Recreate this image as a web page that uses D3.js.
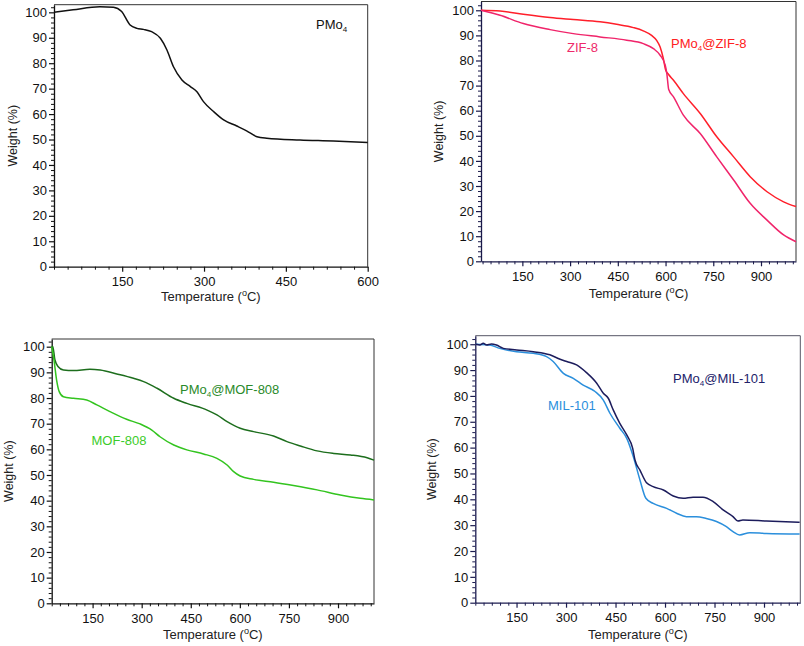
<!DOCTYPE html>
<html><head><meta charset="utf-8">
<script src="https://cdn.jsdelivr.net/npm/d3@7"></script>
<style>
body{margin:0;background:#fff;}
text{font-family:"Liberation Sans",Arial,sans-serif;}
</style></head>
<body><svg id="c" width="804" height="646"></svg>
<script>
// ---------- DATA ----------
const pmo4T = [25,60,109,134,149,164.5,177,189,204,220,232,244,259.5,275,287,299,317.5,336,360,378,397,415,476,537,600];
const pmo4W = [100,101,102.2,102,100.3,95,93.7,93.3,92.4,89.8,85.2,78.6,73.4,70.8,68.8,64.9,61,57.7,55.3,53.4,51.1,50.5,49.8,49.4,48.8];

const zifPT = [20,80,153,237,310,394,446,499,530,556,572,583,593,600.6,609,625,656,709,761,814,866,919,971,1010];
const zifPW = [100,99.7,98.4,97.1,96.3,95.4,94.4,93.1,91.8,90,88,85.4,80.8,76.1,74.5,72.1,66.8,58.9,49.6,41.6,33.7,27.7,23.7,21.8];
const zifT  = [20,80,153,237,310,394,478,530,562,583,599,604,610,625,656,709,761,814,866,919,971,1010];
const zifW  = [100,98,94.7,92.3,90.7,89.4,88.1,86.7,84.7,82.1,78.1,74.8,68.4,65.5,58.2,50.9,41.6,32.4,23.1,16.4,10.5,7.8];

const mofPT = [25,28,35,45,61,91.5,142,173,224,275,306,347,398,438,500,530,561,601,642,703,744,785,836,887,938,989,1010];
const mofPW = [100,100.2,94.8,92.2,90.9,90.7,91.2,90.9,89.4,87.7,86.4,83.8,79.9,77.9,75.3,73.4,70.8,68.2,66.9,65.2,63,61.3,59.4,58.4,57.8,56.7,55.8];
const mofT  = [25,32,40,48,61,91.5,132,163,203,254,295,331,356,398,438,489,530,561,581,601,642,703,764,836,907,968,1010];
const mofW  = [100,94.8,87,82.5,80.5,79.9,79.2,77.3,74.7,71.7,69.9,67.5,64.9,61.7,59.8,58.2,56.5,53.9,51.3,49.6,48.3,47.2,45.9,44.2,42.2,40.9,40.3];

const milPT = [27,39,49,59,74,89,110,150,201,251,282,302,332,362,393,413,428,443,463,484,502,509,524,544,564,595,625,655,685,715,746,776,806,821,836,907,1008];
const milPW = [100,99.7,100.4,99.7,100.1,99.7,98.4,97.8,97.1,95.9,94.2,93.3,92,89,84.9,81,79.1,74.6,69.4,64.9,59.7,55.2,51.3,46.4,44.9,43.6,41.3,40.4,40.8,40.8,39.1,35.9,33.3,31.6,32,31.6,31.1];
const milT  = [27,68,99,150,201,241,261,292,322,352,388,413,433,463,484,504,524,542,564,605,635,665,695,725,756,786,806,826,857,907,1008];
const milW  = [100,99.7,98.4,97.1,96.5,95.2,93.3,88.7,86.8,84.2,81.7,78.4,73.3,67.5,63.6,56.5,47.5,40.4,38.4,36.5,34.6,33.3,33.3,32.6,31.4,29.4,27.5,26.2,27.1,26.8,26.6];

const xTicksShort = [150,300,450,600];
const xTicksLong  = [150,300,450,600,750,900];
const yTicks = [0,10,20,30,40,50,60,70,80,90,100];

// ---------- DRAW ----------
const svg = d3.select("#c");

function addSubText(g, x, y, parts, color, anchor, size){
  const t = g.append("text").attr("x",x).attr("y",y).attr("fill",color)
    .attr("font-size",size).attr("text-anchor",anchor||"start");
  parts.forEach(p=>{
    const s = t.append("tspan").text(p.t);
    if(p.sub){ s.attr("font-size",size*0.62).attr("dy",3); }
    else if(p.sup){ s.attr("font-size",size*0.7).attr("dy",-5); }
    else if(p.reset){ s.attr("dy",p.reset); }
  });
  return t;
}

function panel(cfg){
  const g = svg.append("g");
  const x = d3.scaleLinear().domain(cfg.xd).range([cfg.l, cfg.r]);
  const y = d3.scaleLinear().domain([0, cfg.ytop]).range([cfg.b, cfg.t]);

  g.append("path").attr("d",`M${cfg.l},${cfg.t}H${cfg.r}V${cfg.b}`)
    .attr("fill","none").attr("stroke",cfg.frame).attr("stroke-width",1);

  const xMinor = d3.range(25, cfg.xd[1], cfg.xminor).filter(v=>v%150!==0);
  g.append("g").attr("transform",`translate(0,${cfg.b})`)
    .call(d3.axisBottom(x).tickValues(xMinor).tickSize(3).tickFormat(""))
    .call(a=>{a.select(".domain").remove(); a.selectAll("line").attr("stroke",cfg.axis);});
  const yMinor = d3.range(2, 103, 2).filter(v=>v%10!==0);
  g.append("g").attr("transform",`translate(${cfg.l},0)`)
    .call(d3.axisLeft(y).tickValues(yMinor).tickSize(3).tickFormat(""))
    .call(a=>{a.select(".domain").remove(); a.selectAll("line").attr("stroke",cfg.axis);});

  const xa = g.append("g").attr("transform",`translate(0,${cfg.b})`)
    .call(d3.axisBottom(x).tickValues(cfg.xt).tickSize(5).tickPadding(5).tickSizeOuter(0));
  const ya = g.append("g").attr("transform",`translate(${cfg.l},0)`)
    .call(d3.axisLeft(y).tickValues(yTicks).tickSize(5).tickPadding(2).tickSizeOuter(0));
  [xa,ya].forEach(a=>{
    a.select(".domain").attr("stroke",cfg.axis).attr("stroke-width",1.3);
    a.selectAll(".tick line").attr("stroke",cfg.axis).attr("stroke-width",1.2);
    a.selectAll(".tick text").attr("fill","#111").attr("font-size",13)
      .attr("font-family","'Liberation Sans',Arial,sans-serif");
  });

  g.append("text").attr("transform",`translate(${cfg.ylx},${(cfg.t+cfg.b)/2}) rotate(-90)`)
    .attr("text-anchor","middle").attr("dy","0.35em").attr("font-size",12.5).attr("fill","#222")
    .text("Weight (%)");
  addSubText(g, (cfg.l+cfg.r)/2, cfg.xly, [{t:"Temperature ("},{t:"o",sup:true},{t:"C)",reset:5}], "#222", "middle", 13);

  const line = d3.line().x(d=>x(d[0])).y(d=>y(d[1])).curve(d3.curveMonotoneX);
  cfg.series.forEach(s=>{
    g.append("path").datum(d3.zip(s.T, s.W)).attr("d",line)
      .attr("fill","none").attr("stroke",s.color).attr("stroke-width",1.5);
  });
  cfg.labels.forEach(lb=>{
    addSubText(g, lb.x, lb.y, lb.parts, lb.color, "start", 13);
  });
}

panel({l:54,r:367.7,t:4.7,b:266.7,xd:[25,600],ytop:103,xt:xTicksShort,xminor:25,
  axis:"#111",frame:"#333",ylx:13,xly:301,
  series:[{T:pmo4T,W:pmo4W,color:"#111"}],
  labels:[{x:316,y:29,color:"#111",parts:[{t:"PMo"},{t:"4",sub:true}]}]});

panel({l:481,r:796,t:1.5,b:261.3,xd:[20,1010],ytop:103.5,xt:xTicksLong,xminor:25,
  axis:"#1a1a4a",frame:"#333",ylx:439,xly:298,
  series:[{T:zifPT,W:zifPW,color:"#ff1f2a"},{T:zifT,W:zifW,color:"#f0246a"}],
  labels:[{x:567,y:52,color:"#ee2a6a",parts:[{t:"ZIF-8"}]},
          {x:671,y:48,color:"#ff2020",parts:[{t:"PMo"},{t:"4",sub:true},{t:"@ZIF-8",reset:-3}]}]});

panel({l:51.7,r:374,t:339,b:603.3,xd:[25,1010],ytop:103,xt:xTicksLong,xminor:25,
  axis:"#111",frame:"#333",ylx:9,xly:639,
  series:[{T:mofPT,W:mofPW,color:"#1d6e1d"},{T:mofT,W:mofW,color:"#33c41f"}],
  labels:[{x:180,y:394,color:"#2a8a2a",parts:[{t:"PMo"},{t:"4",sub:true},{t:"@MOF-808",reset:-3}]},
          {x:91.5,y:445,color:"#3ccc2a",parts:[{t:"MOF-808"}]}]});

panel({l:475.3,r:800.3,t:335.7,b:602.7,xd:[25,1010],ytop:103.3,xt:xTicksLong,xminor:25,
  axis:"#1c1c50",frame:"#556",ylx:432,xly:639,
  series:[{T:milT,W:milW,color:"#2b8fdc"},{T:milPT,W:milPW,color:"#1c1c5c"}],
  labels:[{x:673,y:383,color:"#22226a",parts:[{t:"PMo"},{t:"4",sub:true},{t:"@MIL-101",reset:-3}]},
          {x:548,y:410,color:"#2b8fdc",parts:[{t:"MIL-101"}]}]});
</script></body></html>
